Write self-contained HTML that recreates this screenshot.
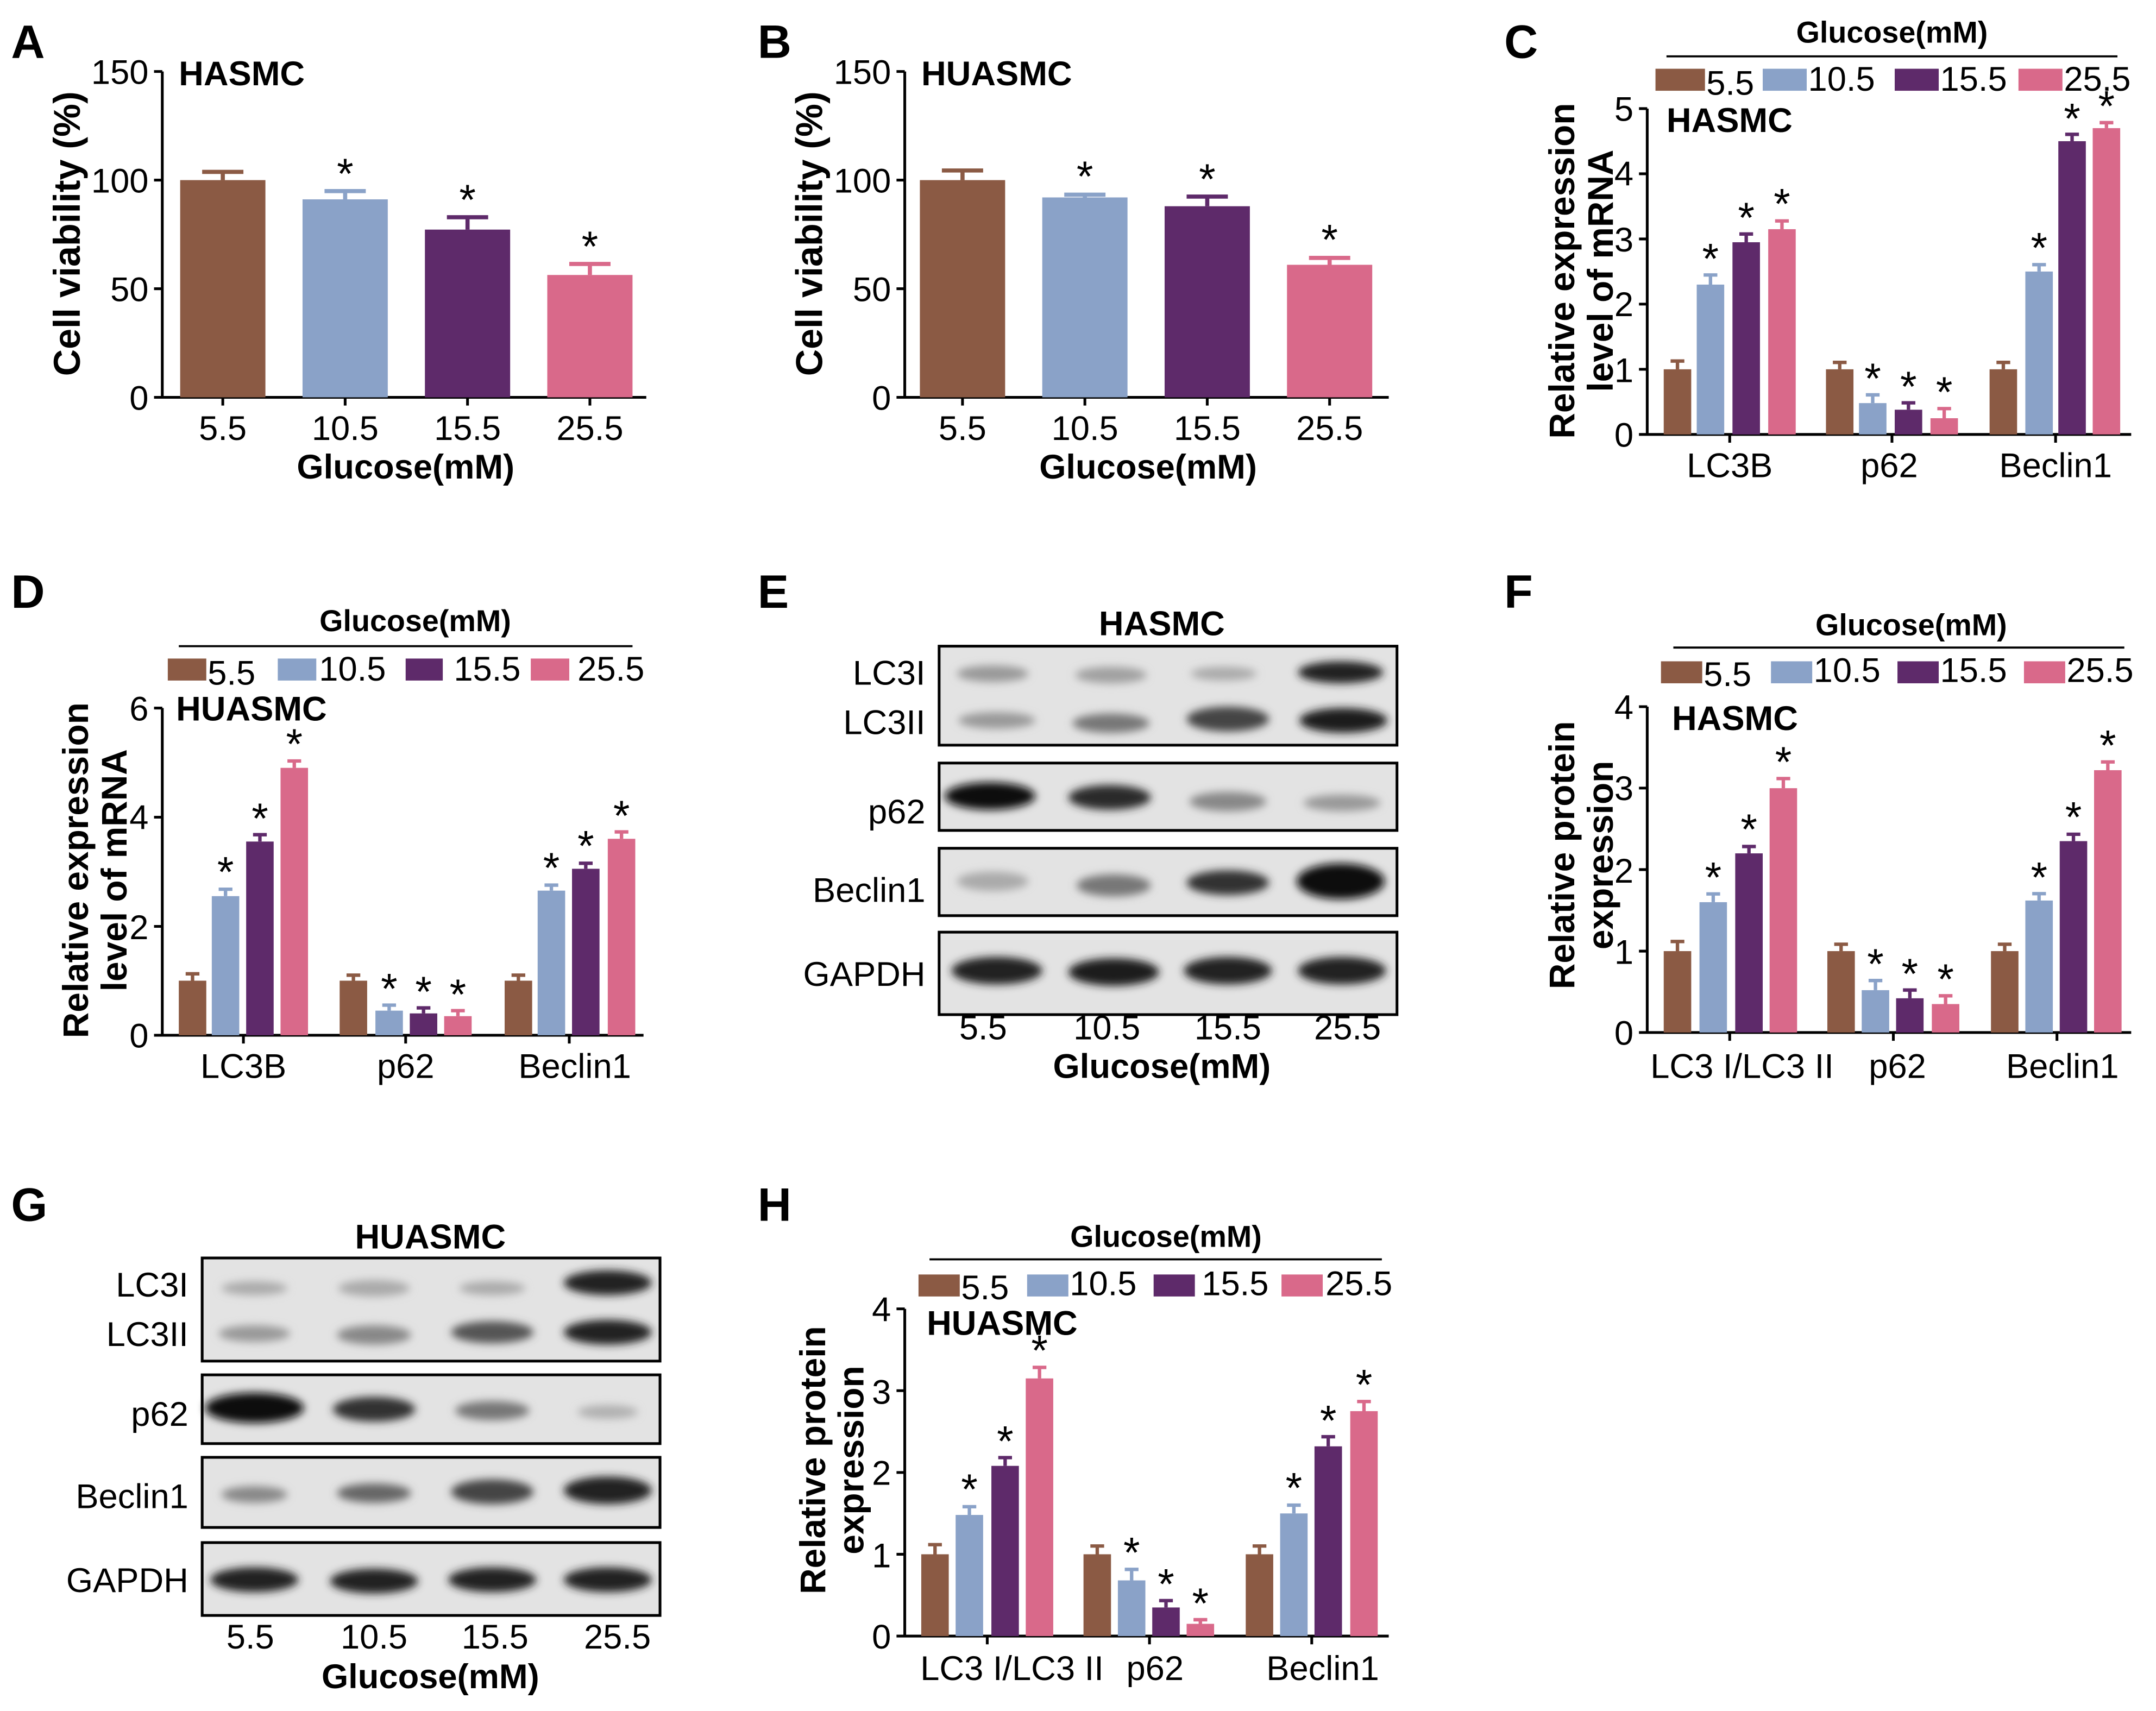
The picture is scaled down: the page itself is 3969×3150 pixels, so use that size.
<!DOCTYPE html>
<html><head><meta charset="utf-8"><style>
html,body{margin:0;padding:0;background:#fff;}
svg{display:block;}
text{font-family:"Liberation Sans",Arial,sans-serif;fill:#000;}
.t{font-size:25px;}
.b{font-weight:bold;}
.y{font-size:27px;font-weight:bold;}
.y2{font-size:26px;font-weight:bold;}
.L{font-size:34px;font-weight:bold;}
.st{font-size:31px;}
.lg{font-size:22px;font-weight:bold;}
</style></head><body>
<svg width="3969" height="3150" viewBox="0 0 1568 1244.5" xmlns="http://www.w3.org/2000/svg">
<defs>
<filter id="bl" x="-30%" y="-100%" width="160%" height="300%"><feGaussianBlur stdDeviation="3"/></filter>
</defs>
<rect width="1568" height="1245" fill="#fff"/>

<text x="8" y="42" class="L">A</text>
<text x="551" y="42" class="L">B</text>
<text x="1094" y="42" class="L">C</text>
<text x="8" y="442" class="L">D</text>
<text x="551" y="442" class="L">E</text>
<text x="1094" y="442" class="L">F</text>
<text x="8" y="888" class="L">G</text>
<text x="551" y="888" class="L">H</text>

<!-- Panel A -->
<g>
<path d="M118,52 V289 H470 M112,52 H118 M112,131 H118 M112,210 H118 M112,289 H118 M162,289v6 M251,289v6 M340,289v6 M429,289v6" stroke="#000" stroke-width="2" fill="none"/>
<g class="t" text-anchor="end"><text x="108" y="61">150</text><text x="108" y="140">100</text><text x="108" y="219">50</text><text x="108" y="298">0</text></g>
<text x="130" y="62" class="t b">HASMC</text>
<rect x="131" y="131" width="62" height="158" fill="#8B5A44"/>
<rect x="220" y="145" width="62" height="144" fill="#8aa2c8"/>
<rect x="309" y="167" width="62" height="122" fill="#5e2a6a"/>
<rect x="398" y="200" width="62" height="89" fill="#d9698a"/>
<path d="M162,131v-6 M147,125h30" stroke="#8B5A44" stroke-width="3"/>
<path d="M251,145v-6 M236,139h30" stroke="#8aa2c8" stroke-width="3"/>
<path d="M340,167v-9 M325,158h30" stroke="#5e2a6a" stroke-width="3"/>
<path d="M429,200v-8 M414,192h30" stroke="#d9698a" stroke-width="3"/>
<g class="st" text-anchor="middle"><text x="251" y="137">*</text><text x="340" y="156">*</text><text x="429" y="190">*</text></g>
<g class="t" text-anchor="middle"><text x="162" y="320">5.5</text><text x="251" y="320">10.5</text><text x="340" y="320">15.5</text><text x="429" y="320">25.5</text></g>
<text x="295" y="348" class="t b" text-anchor="middle">Glucose(mM)</text>
<text transform="translate(58,170) rotate(-90)" class="y" text-anchor="middle">Cell viability (%)</text>
</g>

<!-- Panel B -->
<g>
<path d="M658,52 V289 H1010 M652,52 H658 M652,131 H658 M652,210 H658 M652,289 H658 M700,289v6 M789,289v6 M878,289v6 M967,289v6" stroke="#000" stroke-width="2" fill="none"/>
<g class="t" text-anchor="end"><text x="648" y="61">150</text><text x="648" y="140">100</text><text x="648" y="219">50</text><text x="648" y="298">0</text></g>
<text x="670" y="62" class="t b">HUASMC</text>
<rect x="669" y="131" width="62" height="158" fill="#8B5A44"/>
<rect x="758" y="143.6" width="62" height="145.4" fill="#8aa2c8"/>
<rect x="847" y="150" width="62" height="139" fill="#5e2a6a"/>
<rect x="936" y="192.6" width="62" height="96.4" fill="#d9698a"/>
<path d="M700,131v-7 M685,124h30" stroke="#8B5A44" stroke-width="3"/>
<path d="M789,143.6v-2 M774,141.6h30" stroke="#8aa2c8" stroke-width="3"/>
<path d="M878,150v-7 M863,143h30" stroke="#5e2a6a" stroke-width="3"/>
<path d="M967,192.6v-5 M952,187.6h30" stroke="#d9698a" stroke-width="3"/>
<g class="st" text-anchor="middle"><text x="789" y="139">*</text><text x="878" y="141">*</text><text x="967" y="185">*</text></g>
<g class="t" text-anchor="middle"><text x="700" y="320">5.5</text><text x="789" y="320">10.5</text><text x="878" y="320">15.5</text><text x="967" y="320">25.5</text></g>
<text x="835" y="348" class="t b" text-anchor="middle">Glucose(mM)</text>
<text transform="translate(598,170) rotate(-90)" class="y" text-anchor="middle">Cell viability (%)</text>
</g>

<!-- Panel C -->
<g>
<text x="1376" y="31" class="lg" text-anchor="middle">Glucose(mM)</text>
<path d="M1212,41 H1540" stroke="#000" stroke-width="1.5"/>
<rect x="1204" y="50" width="36" height="16" fill="#8B5A44"/><text x="1241" y="69" class="t">5.5</text>
<rect x="1282" y="50" width="32" height="16" fill="#8aa2c8"/><text x="1315" y="66" class="t">10.5</text>
<rect x="1378" y="50" width="32" height="16" fill="#5e2a6a"/><text x="1411" y="66" class="t">15.5</text>
<rect x="1468" y="50" width="32" height="16" fill="#d9698a"/><text x="1501" y="66" class="t">25.5</text>
<path d="M1198,79 V316 H1550 M1192,79h6 M1192,126.4h6 M1192,173.8h6 M1192,221.2h6 M1192,268.6h6 M1192,316h6 M1258,316v6 M1376,316v6 M1495,316v6" stroke="#000" stroke-width="2" fill="none"/>
<g class="t" text-anchor="end"><text x="1188" y="88">5</text><text x="1188" y="135">4</text><text x="1188" y="183">3</text><text x="1188" y="230">2</text><text x="1188" y="278">1</text><text x="1188" y="325">0</text></g>
<text x="1212" y="96" class="t b">HASMC</text>
<g fill="#8B5A44"><rect x="1210" y="268.6" width="20" height="47.4"/><rect x="1328" y="268.6" width="20" height="47.4"/><rect x="1447" y="268.6" width="20" height="47.4"/></g>
<g fill="#8aa2c8"><rect x="1234" y="207" width="20" height="109"/><rect x="1352" y="293.2" width="20" height="22.8"/><rect x="1473" y="197.5" width="20" height="118.5"/></g>
<g fill="#5e2a6a"><rect x="1260" y="176.2" width="20" height="139.8"/><rect x="1378" y="298" width="20" height="18"/><rect x="1497" y="102.7" width="20" height="213.3"/></g>
<g fill="#d9698a"><rect x="1286" y="166.7" width="20" height="149.3"/><rect x="1404" y="304.2" width="20" height="11.8"/><rect x="1522" y="93.2" width="20" height="222.8"/></g>
<path d="M1220,268.6v-6 M1215,262.6h10 M1338,268.6v-5 M1333,263.6h10 M1457,268.6v-5 M1452,263.6h10" stroke="#8B5A44" stroke-width="2.5"/>
<path d="M1244,207v-7 M1239,200h10 M1362,293.2v-6 M1357,287.2h10 M1483,197.5v-5 M1478,192.5h10" stroke="#8aa2c8" stroke-width="2.5"/>
<path d="M1270,176.2v-6 M1265,170.2h10 M1388,298v-5 M1383,293h10 M1507,102.7v-5 M1502,97.7h10" stroke="#5e2a6a" stroke-width="2.5"/>
<path d="M1296,166.7v-6 M1291,160.7h10 M1414,304.2v-7 M1409,297.2h10 M1532,93.2v-4 M1527,89.2h10" stroke="#d9698a" stroke-width="2.5"/>
<g class="st" text-anchor="middle"><text x="1244" y="199">*</text><text x="1270" y="169">*</text><text x="1296" y="159">*</text><text x="1362" y="286">*</text><text x="1388" y="292">*</text><text x="1414" y="296">*</text><text x="1483" y="191">*</text><text x="1507" y="97">*</text><text x="1532" y="88">*</text></g>
<g class="t" text-anchor="middle"><text x="1258" y="347">LC3B</text><text x="1374" y="347">p62</text><text x="1495" y="347">Beclin1</text></g>
<text transform="translate(1145,197) rotate(-90)" class="y2" text-anchor="middle">Relative expression</text>
<text transform="translate(1173,197) rotate(-90)" class="y2" text-anchor="middle">level of mRNA</text>
</g>

<!-- Panel D -->
<g>
<text x="302" y="459" class="lg" text-anchor="middle">Glucose(mM)</text>
<path d="M130,470 H460" stroke="#000" stroke-width="1.5"/>
<rect x="122" y="479" width="28" height="16" fill="#8B5A44"/><text x="151" y="498" class="t">5.5</text>
<rect x="202" y="479" width="28" height="16" fill="#8aa2c8"/><text x="232" y="495" class="t">10.5</text>
<rect x="295" y="479" width="27" height="16" fill="#5e2a6a"/><text x="330" y="495" class="t">15.5</text>
<rect x="386" y="479" width="28" height="16" fill="#d9698a"/><text x="420" y="495" class="t">25.5</text>
<path d="M118,515 V753 H468 M112,515h6 M112,594.4h6 M112,673.8h6 M112,753h6 M177,753v6 M295,753v6 M414,753v6" stroke="#000" stroke-width="2" fill="none"/>
<g class="t" text-anchor="end"><text x="108" y="524">6</text><text x="108" y="603">4</text><text x="108" y="683">2</text><text x="108" y="762">0</text></g>
<text x="128" y="524" class="t b">HUASMC</text>
<g fill="#8B5A44"><rect x="130" y="713.3" width="20" height="39.7"/><rect x="247" y="713.3" width="20" height="39.7"/><rect x="367" y="713.3" width="20" height="39.7"/></g>
<g fill="#8aa2c8"><rect x="154" y="651.8" width="20" height="101.2"/><rect x="273" y="735.1" width="20" height="17.9"/><rect x="391" y="647.8" width="20" height="105.2"/></g>
<g fill="#5e2a6a"><rect x="179" y="612.1" width="20" height="140.9"/><rect x="298" y="737.1" width="20" height="15.9"/><rect x="416" y="631.9" width="20" height="121.1"/></g>
<g fill="#d9698a"><rect x="204" y="558.5" width="20" height="194.5"/><rect x="323" y="739.1" width="20" height="13.9"/><rect x="442" y="610.1" width="20" height="142.9"/></g>
<path d="M140,713.3v-5 M135,708.3h10 M257,713.3v-4 M252,709.3h10 M377,713.3v-4 M372,709.3h10" stroke="#8B5A44" stroke-width="2.5"/>
<path d="M164,651.8v-5 M159,646.8h10 M283,735.1v-4 M278,731.1h10 M401,647.8v-4 M396,643.8h10" stroke="#8aa2c8" stroke-width="2.5"/>
<path d="M189,612.1v-5 M184,607.1h10 M308,737.1v-4 M303,733.1h10 M426,631.9v-4 M421,627.9h10" stroke="#5e2a6a" stroke-width="2.5"/>
<path d="M214,558.5v-5 M209,553.5h10 M333,739.1v-4 M328,735.1h10 M452,610.1v-5 M447,605.1h10" stroke="#d9698a" stroke-width="2.5"/>
<g class="st" text-anchor="middle"><text x="164" y="645">*</text><text x="189" y="606">*</text><text x="214" y="552">*</text><text x="283" y="730">*</text><text x="308" y="732">*</text><text x="333" y="734">*</text><text x="401" y="642">*</text><text x="426" y="626">*</text><text x="452" y="604">*</text></g>
<g class="t" text-anchor="middle"><text x="177" y="784">LC3B</text><text x="295" y="784">p62</text><text x="418" y="784">Beclin1</text></g>
<text transform="translate(64,633) rotate(-90)" class="y2" text-anchor="middle">Relative expression</text>
<text transform="translate(92,633) rotate(-90)" class="y2" text-anchor="middle">level of mRNA</text>
</g>

<!-- Panel E blot -->
<g>
<text x="845" y="462" class="t b" text-anchor="middle">HASMC</text>
<g fill="#e3e3e3" stroke="#000" stroke-width="2">
<rect x="683" y="470" width="333" height="72"/>
<rect x="683" y="555" width="333" height="49"/>
<rect x="683" y="617" width="333" height="49"/>
<rect x="683" y="678" width="333" height="60"/>
</g>
<g filter="url(#bl)">
<ellipse cx="722" cy="490" rx="26" ry="6" fill="#999"/><ellipse cx="808" cy="491" rx="26" ry="6" fill="#a0a0a0"/><ellipse cx="890" cy="490" rx="24" ry="5" fill="#aaa"/><ellipse cx="975" cy="489" rx="31" ry="8" fill="#222"/>
<ellipse cx="725" cy="524" rx="28" ry="6" fill="#999"/><ellipse cx="808" cy="526" rx="28" ry="7" fill="#777"/><ellipse cx="893" cy="523" rx="30" ry="9" fill="#444"/><ellipse cx="977" cy="524" rx="32" ry="9" fill="#1a1a1a"/>
<ellipse cx="720" cy="579" rx="33" ry="10" fill="#111"/><ellipse cx="807" cy="580" rx="30" ry="9" fill="#2a2a2a"/><ellipse cx="893" cy="583" rx="28" ry="7" fill="#888"/><ellipse cx="976" cy="584" rx="28" ry="6" fill="#999"/>
<ellipse cx="722" cy="641" rx="26" ry="7" fill="#aaa"/><ellipse cx="810" cy="644" rx="27" ry="8" fill="#777"/><ellipse cx="893" cy="642" rx="30" ry="9" fill="#333"/><ellipse cx="975" cy="641" rx="32" ry="13" fill="#111"/>
<ellipse cx="725" cy="706" rx="33" ry="10" fill="#222"/><ellipse cx="810" cy="707" rx="33" ry="10" fill="#1a1a1a"/><ellipse cx="893" cy="706" rx="32" ry="10" fill="#222"/><ellipse cx="976" cy="706" rx="32" ry="10" fill="#222"/>
</g>
<g class="t" text-anchor="end"><text x="673" y="498">LC3I</text><text x="673" y="534">LC3II</text><text x="673" y="599">p62</text><text x="673" y="656">Beclin1</text><text x="673" y="717">GAPDH</text></g>
<g class="t" text-anchor="middle"><text x="715" y="756">5.5</text><text x="805" y="756">10.5</text><text x="893" y="756">15.5</text><text x="980" y="756">25.5</text></g>
<text x="845" y="784" class="t b" text-anchor="middle">Glucose(mM)</text>
</g>

<!-- Panel F -->
<g>
<text x="1390" y="462" class="lg" text-anchor="middle">Glucose(mM)</text>
<path d="M1217,471 H1545" stroke="#000" stroke-width="1.5"/>
<rect x="1208" y="481" width="30" height="16" fill="#8B5A44"/><text x="1239" y="499" class="t">5.5</text>
<rect x="1288" y="481" width="30" height="16" fill="#8aa2c8"/><text x="1319" y="496" class="t">10.5</text>
<rect x="1380" y="481" width="30" height="16" fill="#5e2a6a"/><text x="1411" y="496" class="t">15.5</text>
<rect x="1472" y="481" width="30" height="16" fill="#d9698a"/><text x="1503" y="496" class="t">25.5</text>
<path d="M1198,514 V751 H1550 M1192,514h6 M1192,573.2h6 M1192,632.5h6 M1192,691.8h6 M1192,751h6 M1258,751v6 M1377,751v6 M1496,751v6" stroke="#000" stroke-width="2" fill="none"/>
<g class="t" text-anchor="end"><text x="1188" y="523">4</text><text x="1188" y="582">3</text><text x="1188" y="642">2</text><text x="1188" y="701">1</text><text x="1188" y="760">0</text></g>
<text x="1216" y="531" class="t b">HASMC</text>
<g fill="#8B5A44"><rect x="1210" y="691.8" width="20" height="59.2"/><rect x="1329" y="691.8" width="20" height="59.2"/><rect x="1448" y="691.8" width="20" height="59.2"/></g>
<g fill="#8aa2c8"><rect x="1236" y="656.2" width="20" height="94.8"/><rect x="1354" y="720.2" width="20" height="30.8"/><rect x="1473" y="655" width="20" height="96"/></g>
<g fill="#5e2a6a"><rect x="1262" y="620.7" width="20" height="130.3"/><rect x="1379" y="726.1" width="20" height="24.9"/><rect x="1498" y="611.8" width="20" height="139.2"/></g>
<g fill="#d9698a"><rect x="1287" y="573.3" width="20" height="177.7"/><rect x="1405" y="730.3" width="20" height="20.7"/><rect x="1523" y="560.2" width="20" height="190.8"/></g>
<path d="M1220,691.8v-7 M1215,684.8h10 M1339,691.8v-5 M1334,686.8h10 M1458,691.8v-5 M1453,686.8h10" stroke="#8B5A44" stroke-width="2.5"/>
<path d="M1246,656.2v-6 M1241,650.2h10 M1364,720.2v-7 M1359,713.2h10 M1483,655v-5 M1478,650h10" stroke="#8aa2c8" stroke-width="2.5"/>
<path d="M1272,620.7v-5 M1267,615.7h10 M1389,726.1v-6 M1384,720.1h10 M1508,611.8v-5 M1503,606.8h10" stroke="#5e2a6a" stroke-width="2.5"/>
<path d="M1297,573.3v-7 M1292,566.3h10 M1415,730.3v-6 M1410,724.3h10 M1533,560.2v-6 M1528,554.2h10" stroke="#d9698a" stroke-width="2.5"/>
<g class="st" text-anchor="middle"><text x="1246" y="649">*</text><text x="1272" y="614">*</text><text x="1297" y="565">*</text><text x="1364" y="712">*</text><text x="1389" y="719">*</text><text x="1415" y="723">*</text><text x="1483" y="649">*</text><text x="1508" y="605">*</text><text x="1533" y="553">*</text></g>
<g class="t" text-anchor="middle"><text x="1267" y="784">LC3 I/LC3 II</text><text x="1380" y="784">p62</text><text x="1500" y="784">Beclin1</text></g>
<text transform="translate(1145,622) rotate(-90)" class="y2" text-anchor="middle">Relative protein</text>
<text transform="translate(1173,622) rotate(-90)" class="y2" text-anchor="middle">expression</text>
</g>

<!-- Panel G blot -->
<g>
<text x="313" y="908" class="t b" text-anchor="middle">HUASMC</text>
<g fill="#e3e3e3" stroke="#000" stroke-width="2">
<rect x="147" y="915" width="333" height="75"/>
<rect x="147" y="1000" width="333" height="50"/>
<rect x="147" y="1060" width="333" height="51"/>
<rect x="147" y="1122" width="333" height="53"/>
</g>
<g filter="url(#bl)">
<ellipse cx="185" cy="937" rx="24" ry="5" fill="#aaa"/><ellipse cx="272" cy="937" rx="26" ry="6" fill="#aaa"/><ellipse cx="358" cy="937" rx="24" ry="5" fill="#aaa"/><ellipse cx="442" cy="933" rx="32" ry="9" fill="#222"/>
<ellipse cx="185" cy="970" rx="26" ry="6" fill="#999"/><ellipse cx="272" cy="971" rx="27" ry="7" fill="#888"/><ellipse cx="358" cy="969" rx="30" ry="8" fill="#555"/><ellipse cx="442" cy="969" rx="32" ry="9" fill="#222"/>
<ellipse cx="185" cy="1024" rx="36" ry="11" fill="#0a0a0a"/><ellipse cx="272" cy="1025" rx="30" ry="9" fill="#333"/><ellipse cx="358" cy="1026" rx="27" ry="7" fill="#777"/><ellipse cx="442" cy="1027" rx="22" ry="5" fill="#b0b0b0"/>
<ellipse cx="185" cy="1087" rx="24" ry="6" fill="#888"/><ellipse cx="272" cy="1086" rx="27" ry="7" fill="#666"/><ellipse cx="358" cy="1085" rx="30" ry="9" fill="#444"/><ellipse cx="442" cy="1084" rx="32" ry="10" fill="#222"/>
<ellipse cx="185" cy="1149" rx="32" ry="9" fill="#222"/><ellipse cx="272" cy="1150" rx="32" ry="9" fill="#222"/><ellipse cx="358" cy="1149" rx="32" ry="9" fill="#222"/><ellipse cx="442" cy="1149" rx="32" ry="9" fill="#222"/>
</g>
<g class="t" text-anchor="end"><text x="137" y="943">LC3I</text><text x="137" y="979">LC3II</text><text x="137" y="1037">p62</text><text x="137" y="1097">Beclin1</text><text x="137" y="1158">GAPDH</text></g>
<g class="t" text-anchor="middle"><text x="182" y="1199">5.5</text><text x="272" y="1199">10.5</text><text x="360" y="1199">15.5</text><text x="449" y="1199">25.5</text></g>
<text x="313" y="1228" class="t b" text-anchor="middle">Glucose(mM)</text>
</g>

<!-- Panel H -->
<g>
<text x="848" y="907" class="lg" text-anchor="middle">Glucose(mM)</text>
<path d="M676,916 H1005" stroke="#000" stroke-width="1.5"/>
<rect x="668" y="927" width="30" height="16" fill="#8B5A44"/><text x="699" y="945" class="t">5.5</text>
<rect x="747" y="927" width="30" height="16" fill="#8aa2c8"/><text x="778" y="942" class="t">10.5</text>
<rect x="839" y="927" width="30" height="16" fill="#5e2a6a"/><text x="874" y="942" class="t">15.5</text>
<rect x="932" y="927" width="30" height="16" fill="#d9698a"/><text x="964" y="942" class="t">25.5</text>
<path d="M658,952 V1190 H1010 M652,952h6 M652,1011.5h6 M652,1071h6 M652,1130.5h6 M652,1190h6 M718,1190v6 M836,1190v6 M954,1190v6" stroke="#000" stroke-width="2" fill="none"/>
<g class="t" text-anchor="end"><text x="648" y="961">4</text><text x="648" y="1021">3</text><text x="648" y="1080">2</text><text x="648" y="1140">1</text><text x="648" y="1199">0</text></g>
<text x="674" y="971" class="t b">HUASMC</text>
<g fill="#8B5A44"><rect x="670" y="1130.5" width="20" height="59.5"/><rect x="788" y="1130.5" width="20" height="59.5"/><rect x="906" y="1130.5" width="20" height="59.5"/></g>
<g fill="#8aa2c8"><rect x="695" y="1101.9" width="20" height="88.1"/><rect x="813" y="1149.5" width="20" height="40.5"/><rect x="931" y="1100.8" width="20" height="89.2"/></g>
<g fill="#5e2a6a"><rect x="721" y="1066.2" width="20" height="123.8"/><rect x="838" y="1169.2" width="20" height="20.8"/><rect x="956" y="1052" width="20" height="138"/></g>
<g fill="#d9698a"><rect x="746" y="1002.6" width="20" height="187.4"/><rect x="863" y="1181.1" width="20" height="8.9"/><rect x="982" y="1026.4" width="20" height="163.6"/></g>
<path d="M680,1130.5v-7 M675,1123.5h10 M798,1130.5v-6 M793,1124.5h10 M916,1130.5v-6 M911,1124.5h10" stroke="#8B5A44" stroke-width="2.5"/>
<path d="M705,1101.9v-6 M700,1095.9h10 M823,1149.5v-8 M818,1141.5h10 M941,1100.8v-6 M936,1094.8h10" stroke="#8aa2c8" stroke-width="2.5"/>
<path d="M731,1066.2v-6 M726,1060.2h10 M848,1169.2v-5 M843,1164.2h10 M966,1052v-7 M961,1045h10" stroke="#5e2a6a" stroke-width="2.5"/>
<path d="M756,1002.6v-8 M751,994.6h10 M873,1181.1v-3 M868,1178.1h10 M992,1026.4v-7 M987,1019.4h10" stroke="#d9698a" stroke-width="2.5"/>
<g class="st" text-anchor="middle"><text x="705" y="1094">*</text><text x="731" y="1059">*</text><text x="756" y="993">*</text><text x="823" y="1140">*</text><text x="848" y="1163">*</text><text x="873" y="1177">*</text><text x="941" y="1093">*</text><text x="966" y="1044">*</text><text x="992" y="1018">*</text></g>
<g class="t" text-anchor="middle"><text x="736" y="1222">LC3 I/LC3 II</text><text x="840" y="1222">p62</text><text x="962" y="1222">Beclin1</text></g>
<text transform="translate(600,1062) rotate(-90)" class="y2" text-anchor="middle">Relative protein</text>
<text transform="translate(628,1062) rotate(-90)" class="y2" text-anchor="middle">expression</text>
</g>
</svg>
</body></html>
